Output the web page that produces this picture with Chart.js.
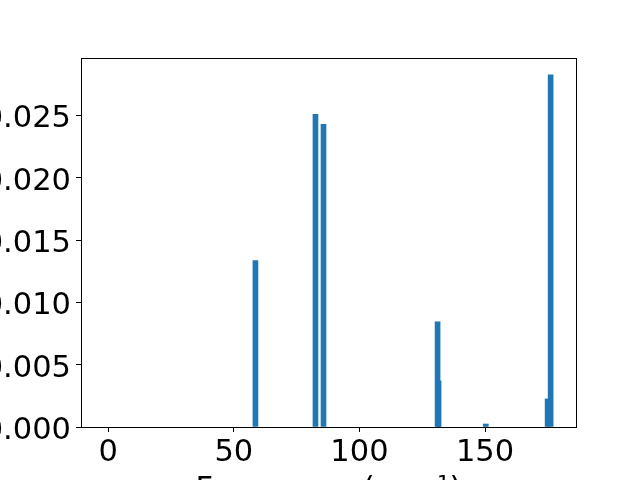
<!DOCTYPE html>
<html>
<head>
<meta charset="utf-8">
<script src="https://cdn.jsdelivr.net/npm/chart.js@4/dist/chart.umd.min.js"></script>
<style>
  html, body { margin: 0; padding: 0; background: #fff; }
  #wrap { width: 640px; height: 480px; overflow: hidden; position: relative; }
  #myChart { position: absolute; left: 0; top: 0; }
</style>
</head>
<body>
<div id="wrap"><canvas id="myChart" width="640" height="520"></canvas></div>
<script>
// frequencies (cm^-1) and intensities
// short bars come before the tall ones they sit behind
const frequencies = [58.6, 82.5, 85.7, 131.5, 131.1, 150.3, 174.9, 176.1];
const intensities = [0.01334, 0.02508, 0.02428, 0.0037, 0.00844, 0.00024, 0.00225, 0.02824];

const xTicks = [0, 50, 100, 150];
const yTicks = [0, 0.005, 0.010, 0.015, 0.020, 0.025];

const xMin = -10.83, xMax = 186.2;
const yMax = 0.0296;

const data = frequencies.map((f, i) => ({ x: f, y: intensities[i] }));

// box around the plot area, like the matplotlib spines
const frame = {
  id: 'frame',
  afterDraw(chart) {
    const a = chart.chartArea;
    const ctx = chart.ctx;
    ctx.save();
    ctx.strokeStyle = '#000';
    ctx.lineWidth = 1;
    ctx.strokeRect(Math.round(a.left) + 0.5, Math.round(a.top) + 0.5,
      Math.round(a.right - a.left), Math.round(a.bottom - a.top));
    ctx.restore();
  }
};

Chart.defaults.font.family = '"DejaVu Sans", sans-serif';
Chart.defaults.color = '#000';

const myChart = new Chart(document.getElementById('myChart').getContext('2d'), {
  type: 'bar',
  data: {
    datasets: [{
      data: data,
      backgroundColor: '#1f77b4',
      borderWidth: 0,
      barThickness: 5
    }]
  },
  options: {
    responsive: false,
    animation: false,
    layout: { padding: { top: 58, right: 64, left: 0, bottom: 0 } },
    plugins: { legend: { display: false }, tooltip: { enabled: false } },
    scales: {
      x: {
        type: 'linear',
        offset: false,
        min: xMin,
        max: xMax,
        afterBuildTicks: s => { s.ticks = xTicks.map(v => ({ value: v })); },
        afterFit: s => { s.height = 520 - 427; },
        ticks: { font: { size: 30.5 }, padding: 3, maxRotation: 0, color: '#000' },
        grid: { display: true, offset: false, drawOnChartArea: false, drawTicks: true, tickLength: 5, tickColor: '#000' },
        border: { display: true, color: '#000', width: 1 },
        title: {
          display: true,
          text: 'Frequency (cm⁻¹)',
          font: { size: 30.5 },
          color: '#000',
          padding: { top: 0, bottom: 12 }
        }
      },
      y: {
        min: 0,
        max: yMax,
        afterBuildTicks: s => { s.ticks = yTicks.map(v => ({ value: v })); },
        afterFit: s => { s.width = 81; },
        ticks: { font: { size: 30.5 }, padding: 5, labelOffset: 4, color: '#000', callback: v => v.toFixed(3) },
        grid: { display: true, drawOnChartArea: false, drawTicks: true, tickLength: 5, tickColor: '#000' },
        border: { display: true, color: '#000', width: 1 }
      }
    }
  },
  plugins: [frame]
});
</script>
</body>
</html>
